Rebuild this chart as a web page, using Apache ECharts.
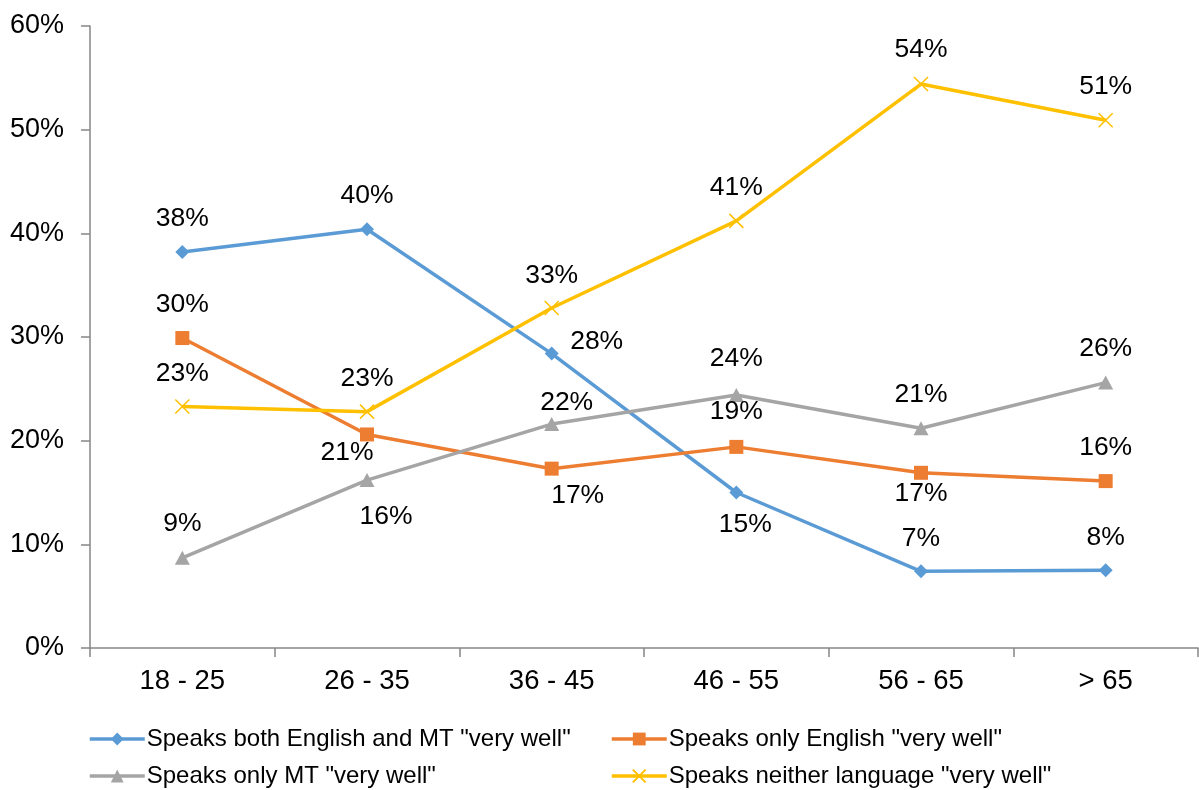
<!DOCTYPE html>
<html>
<head>
<meta charset="utf-8">
<script src="https://cdn.jsdelivr.net/npm/echarts@6/dist/echarts.min.js"></script>
<style>
  html, body { margin: 0; padding: 0; background: #fff; }
  #chart { width: 1199px; height: 790px; }
</style>
</head>
<body>
<div id="chart"></div>
<script>
// Age groups on the horizontal axis
const ageGroups = ['18 - 25', '26 - 35', '36 - 45', '46 - 55', '56 - 65', '> 65'];

// Share of respondents (%) in each age group
const bothVeryWell = [38.2, 40.4, 28.4, 15.0, 7.4, 7.5];
const englishOnlyVeryWell = [29.9, 20.6, 17.3, 19.4, 16.9, 16.1];
const mtOnlyVeryWell = [8.7, 16.2, 21.6, 24.4, 21.2, 25.6];
const neitherVeryWell = [23.3, 22.8, 32.8, 41.2, 54.4, 50.9];

// Value axis ticks
const yTicks = [0, 10, 20, 30, 40, 50, 60];

const seriesNames = [
  'Speaks both English and MT "very well"',
  'Speaks only English "very well"',
  'Speaks only MT "very well"',
  'Speaks neither language "very well"'
];

// Label offsets (centre of text relative to the marker) for each point
const labelOffsets = {
  both:    [[0,-33],[0,-33],[45,-12],[9,32],[0,-33],[0,-33]],
  english: [[0,-33],[-20,18],[26,27],[0,-35],[0,21],[0,-33]],
  mt:      [[0,-34],[19,37],[15,-21],[0,-36],[0,-34],[0,-34]],
  neither: [[0,-33],[0,-33],[0,-32],[0,-33],[0,-34],[0,-34]]
};

const font = '"Liberation Sans", Arial, sans-serif';

function withLabels(values, offsets) {
  return values.map((v, i) => ({
    value: v,
    label: { offset: offsets[i] }
  }));
}

function lineSeries(name, values, offsets, color, symbol, symbolSize, extraItemStyle) {
  return {
    name: name,
    type: 'line',
    data: withLabels(values, offsets),
    symbol: symbol,
    symbolSize: symbolSize,
    lineStyle: { color: color, width: 3.5 },
    itemStyle: Object.assign({ color: color }, extraItemStyle || {}),
    label: {
      show: true,
      position: 'inside',
      color: '#000',
      fontFamily: font,
      fontSize: 26.5,
      formatter: p => Math.round(p.value) + '%'
    },
    emphasis: { disabled: true },
    animation: false,
    z: 2
  };
}

const crossPath = 'path://M0,0L10,10M10,0L0,10';

// One legend box per entry, laid out as a 2 x 2 block under the axis
function legendEntry(name, left, top) {
  return {
    data: [name],
    left: left,
    top: top,
    itemWidth: 55,
    itemHeight: 16,
    lineStyle: { width: 3.5 },
    textStyle: { color: '#000', fontFamily: font, fontSize: 24, padding: [0, 0, 0, -3] },
    selectedMode: false
  };
}

const chart = echarts.init(document.getElementById('chart'), null, { renderer: 'canvas' });

chart.setOption({
  backgroundColor: '#ffffff',
  animation: false,
  grid: { left: 90, right: 1, top: 26, bottom: 142, containLabel: false },
  xAxis: {
    type: 'category',
    data: ageGroups,
    boundaryGap: true,
    axisLine: { show: true, lineStyle: { color: '#868686', width: 1.5 } },
    axisTick: { show: true, length: 9, alignWithLabel: false, lineStyle: { color: '#868686', width: 1.5 } },
    axisLabel: { color: '#000', fontFamily: font, fontSize: 27.5, margin: 19 },
    splitLine: { show: false }
  },
  yAxis: {
    type: 'value',
    min: yTicks[0],
    max: yTicks[yTicks.length - 1],
    interval: yTicks[1] - yTicks[0],
    axisLine: { show: true, lineStyle: { color: '#868686', width: 1.5 } },
    axisTick: { show: true, length: 9, lineStyle: { color: '#868686', width: 1.5 } },
    axisLabel: { color: '#000', fontFamily: font, fontSize: 27, margin: 26, formatter: '{value}%' },
    splitLine: { show: false }
  },
  legend: [
    legendEntry(seriesNames[0], 83, 722),
    legendEntry(seriesNames[1], 605, 722),
    legendEntry(seriesNames[2], 83, 759),
    legendEntry(seriesNames[3], 605, 759)
  ],
  series: [
    lineSeries(seriesNames[0], bothVeryWell, labelOffsets.both, '#5B9BD5', 'diamond', [14, 14]),
    lineSeries(seriesNames[1], englishOnlyVeryWell, labelOffsets.english, '#ED7D31', 'rect', [14, 14]),
    lineSeries(seriesNames[2], mtOnlyVeryWell, labelOffsets.mt, '#A5A5A5', 'triangle', [15, 14]),
    lineSeries(seriesNames[3], neitherVeryWell, labelOffsets.neither, '#FFC000', crossPath, [14, 14],
      { borderColor: '#FFC000', borderWidth: 1.5 })
  ]
});
</script>
</body>
</html>
